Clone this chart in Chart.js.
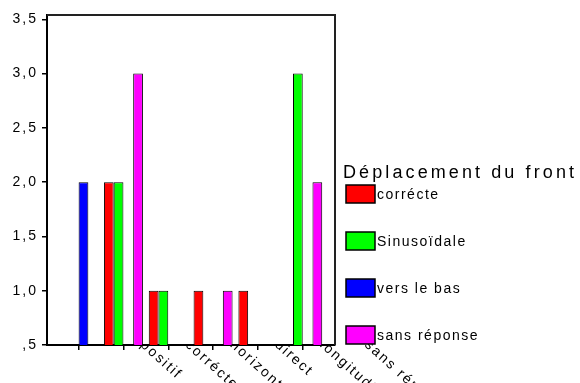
<!DOCTYPE html>
<html>
<head>
<meta charset="utf-8">
<script src="https://cdn.jsdelivr.net/npm/chart.js@4.4.0/dist/chart.umd.min.js"></script>
<style>
  html, body { margin: 0; padding: 0; background: #fff; }
  #wrap { width: 580px; height: 383px; }
</style>
</head>
<body>
<div id="wrap"><canvas id="chart" width="580" height="383"></canvas></div>
<script>
// categories on the x axis (first one has no visible label, last one sits past the frame)
const categories = ['', 'positif', 'corrécte', 'horizontal', 'direct', 'longitudinal', 'sans réponse'];

// legend series
const seriesNames = ['corrécte', 'Sinusoïdale', 'vers le bas', 'sans réponse'];
const seriesColors = ['#ff0000', '#00ff00', '#0000ff', '#ff00ff'];
const legendTitle = 'Déplacement du front';

// values per category (null = no bar)
const correcte    = [null, 2, 1, 1, 1, null, null];
const sinusoidale = [null, 2, 1, null, null, 3, null];
const versLeBas   = [2, null, null, null, null, null, null];
const sansReponse = [null, 3, null, 1, null, 2, null];

const yTicks = [0.5, 1, 1.5, 2, 2.5, 3, 3.5];

const FONT = '"Liberation Sans", Arial, sans-serif';

const toPoints = (arr) => arr
  .map((v, i) => (v === null ? null : { x: i, y: v }))
  .filter(Boolean);

const seriesValues = [correcte, sinusoidale, versLeBas, sansReponse];

const datasets = seriesValues.map((vals, k) => ({
  label: seriesNames[k],
  data: toPoints(vals),
  backgroundColor: seriesColors[k],
  borderColor: '#000',
  borderWidth: 1,
  categoryPercentage: 0.87,
  barPercentage: 1
}));

// x labels, frame and legend drawn by hand, SPSS style
const spssDecor = {
  id: 'spssDecor',
  beforeDraw(chart) {
    const { ctx, chartArea: a } = chart;
    const x = chart.scales.x;
    ctx.save();
    ctx.fillStyle = '#fff';
    ctx.fillRect(0, 0, chart.width, chart.height);

    // rotated category labels, the part inside the plot gets covered below
    ctx.font = '14px ' + FONT;
    ctx.letterSpacing = '2px';
    ctx.fillStyle = '#000';
    ctx.textAlign = 'left';
    ctx.textBaseline = 'middle';
    categories.forEach((label, i) => {
      if (!label) return;
      ctx.save();
      ctx.translate(x.getPixelForValue(i) + 19, a.bottom - 2);
      ctx.rotate(42 * Math.PI / 180);
      ctx.fillText(label, 0, 0);
      ctx.restore();
    });

    ctx.fillStyle = '#fff';
    ctx.fillRect(a.left, a.top, a.right - a.left, a.bottom - a.top);
    ctx.restore();
    // wide spacing for the axis tick labels too
    ctx.letterSpacing = '2px';
  },
  afterDatasetsDraw(chart) {
    const { ctx, chartArea: a } = chart;
    ctx.save();
    ctx.strokeStyle = '#222';
    ctx.lineWidth = 2;
    ctx.beginPath();
    ctx.moveTo(a.left, a.top);
    ctx.lineTo(a.right, a.top);
    ctx.lineTo(a.right, a.bottom);
    ctx.stroke();
    ctx.restore();
  },
  afterDraw(chart) {
    const { ctx, chartArea: a } = chart;
    const left = a.right + 8;
    ctx.save();
    ctx.fillStyle = '#000';
    ctx.textAlign = 'left';
    ctx.textBaseline = 'middle';
    ctx.font = '18px ' + FONT;
    ctx.letterSpacing = '3.1px';
    ctx.fillText(legendTitle, left, 173);

    ctx.font = '14px ' + FONT;
    ctx.letterSpacing = '1.5px';
    seriesNames.forEach((name, k) => {
      const cy = 194 + k * 47;
      ctx.fillStyle = seriesColors[k];
      ctx.fillRect(left + 3, cy - 9, 29, 18);
      ctx.strokeStyle = '#000';
      ctx.lineWidth = 1.5;
      ctx.strokeRect(left + 3, cy - 9, 29, 18);
      ctx.fillStyle = '#000';
      ctx.fillText(name, left + 34, cy + 1);
    });
    ctx.restore();
  }
};

new Chart(document.getElementById('chart'), {
  type: 'bar',
  data: { datasets },
  options: {
    responsive: false,
    animation: false,
    devicePixelRatio: 1,
    layout: { padding: { top: 15, right: 245, left: 0, bottom: 0 } },
    plugins: {
      legend: { display: false },
      tooltip: { enabled: false }
    },
    scales: {
      x: {
        type: 'linear',
        min: -0.705,
        max: 5.72,
        offset: false,
        grid: {
          display: true,
          offset: false,
          drawOnChartArea: false,
          drawTicks: true,
          tickLength: 5,
          color: '#000',
          lineWidth: 1.5
        },
        border: { display: true, color: '#000', width: 2 },
        ticks: { display: false },
        afterBuildTicks: (s) => {
          s.ticks = categories.map((c, i) => ({ value: i })).filter((t) => t.value <= s.max);
        },
        afterFit: (s) => { s.height = 38; }
      },
      y: {
        min: 0.5,
        max: 3.54,
        grid: {
          drawOnChartArea: false,
          tickLength: 5,
          color: '#000',
          lineWidth: 1.5
        },
        border: { display: true, color: '#000', width: 2 },
        ticks: {
          padding: 4,
          color: '#000',
          font: { family: FONT, size: 14 },
          callback: (v) => v.toFixed(1).replace('.', ',').replace(/^0/, '')
        },
        afterBuildTicks: (s) => {
          s.ticks = yTicks.map((v) => ({ value: v }));
        },
        afterFit: (s) => { s.width = 47; }
      }
    }
  },
  plugins: [spssDecor]
});
</script>
</body>
</html>
